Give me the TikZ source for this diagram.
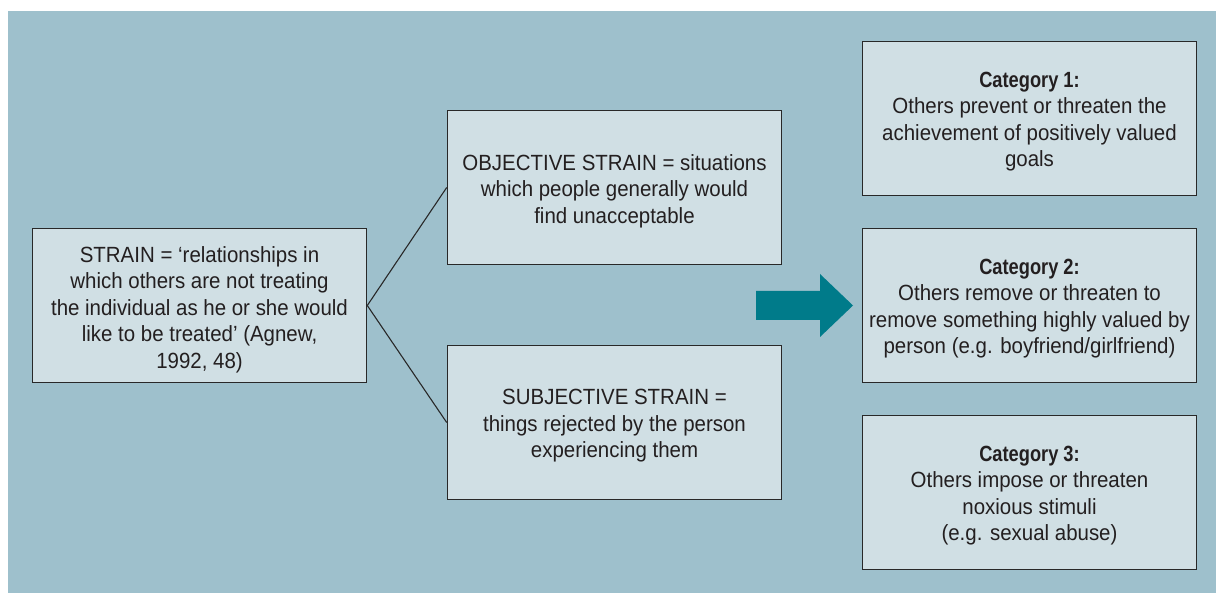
\documentclass[tikz,border=0pt]{standalone}
\usepackage{fontspec}
\setmainfont{Liberation Sans}[FakeStretch=0.93, BoldFeatures={FakeStretch=0.83}]
\definecolor{panel}{RGB}{158,192,204}
\definecolor{boxfill}{RGB}{208,223,228}
\definecolor{boxline}{RGB}{40,40,40}
\definecolor{txt}{RGB}{35,31,32}
\definecolor{teal}{RGB}{0,123,138}
\tikzset{
  infobox/.style={draw=boxline, line width=1.6pt, fill=boxfill,
    minimum width=334pt, minimum height=154pt, inner sep=0pt},
  boxtext/.style={align=center, text=txt, inner sep=0pt,
    font=\fontsize{22}{26.5}\selectfont},
  link/.style={draw=boxline, line width=1.1pt}
}
\begin{document}
\begin{tikzpicture}[x=1pt, y=-1pt]
  % page and coloured panel
  \useasboundingbox (0,0) rectangle (1216,593);
  \fill[white] (0,0) rectangle (1216,593);
  \fill[panel] (8,11) rectangle (1216,593);

  % boxes
  \node[infobox] (strain) at (199.5,305.5) {};
  \node[infobox] (obj)    at (614.5,187.5) {};
  \node[infobox] (subj)   at (614.5,422.5) {};
  \node[infobox] (cat1)   at (1029.5,118.5) {};
  \node[infobox] (cat2)   at (1029.5,305.5) {};
  \node[infobox] (cat3)   at (1029.5,492.5) {};

  % box texts
  \node[boxtext] (strain-t) at ([yshift=-4pt]strain.center)
    {STRAIN = ‘relationships in\\ which others are not treating\\ the individual as he or she would\\ like to be treated’ (Agnew,\\ 1992, 48)};
  \node[boxtext] (obj-t) at ([yshift=-3.5pt]obj.center)
    {OBJECTIVE STRAIN = situations\\ which people generally would\\ find unacceptable};
  \node[boxtext] (subj-t) at ([yshift=-3.5pt]subj.center)
    {SUBJECTIVE STRAIN =\\ things rejected by the person\\ experiencing them};
  \node[boxtext] (cat1-t) at ([yshift=-3pt]cat1.center)
    {\textbf{Category 1:}\\ Others prevent or threaten the\\ achievement of positively valued\\ goals};
  \node[boxtext] (cat2-t) at ([yshift=-3pt]cat2.center)
    {\textbf{Category 2:}\\ Others remove or threaten to\\ remove something highly valued by\\ person (e.g. boyfriend/girlfriend)};
  \node[boxtext] (cat3-t) at ([yshift=-3pt]cat3.center)
    {\textbf{Category 3:}\\ Others impose or threaten\\ noxious stimuli\\ (e.g. sexual abuse)};

  % branching lines
  \draw[link] (strain.east) -- (obj.west);
  \draw[link] (strain.east) -- (subj.west);

  % block arrow towards the categories
  \fill[teal] (756,291) -- (820,291) -- (820,274) -- (853,305.5)
    -- (820,337) -- (820,320) -- (756,320) -- cycle;
\end{tikzpicture}
\end{document}
